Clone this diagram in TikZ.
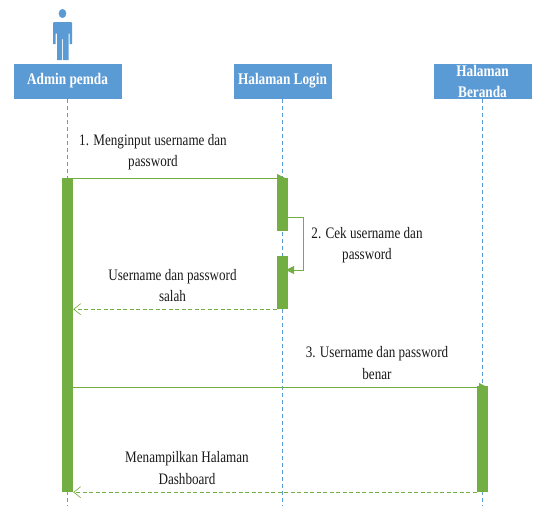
\documentclass[tikz,border=0pt]{standalone}
\usepackage{fontspec}
\setmainfont[FakeStretch=0.82]{Liberation Serif}
\definecolor{blu}{HTML}{5B9BD5}
\definecolor{grn}{HTML}{72AE42}
\usetikzlibrary{arrows.meta}
\tikzset{
 head/.style={fill=blu,draw=white,line width=.4pt,minimum width=#1,minimum height=36.5pt,inner sep=0pt,align=center,text=white,font=\fontsize{16.2}{21}\selectfont\bfseries},
 life/.style={draw=blu,line width=.8pt,dash pattern=on 4pt off 3pt},
 act/.style={fill=grn,draw=none,minimum width=11pt,inner sep=0pt},
 msg/.style={draw=grn,line width=.85pt,-{Triangle[length=8pt,width=8pt]}},
 ret/.style={draw=grn,line width=1pt,dash pattern=on 4pt off 2.5pt,-{Straight Barb[length=7pt,width=11pt,line width=.6pt]}},
 lbl/.style={align=center,inner sep=0pt,text=black!90,font=\fontsize{16}{21.5}\selectfont}
}
\begin{document}
\begin{tikzpicture}[x=1pt,y=-1pt]
\useasboundingbox (0,0) rectangle (536,506);
\node[head=109pt] (adm) at (67.5,81) {Admin pemda};
\node[head=99pt] (log) at (282.5,81) {Halaman Login};
\node[head=99pt] (ber) at (482.5,81) {Halaman\\Beranda};
\coordinate (admE) at (67.5,506);
\coordinate (logE) at (282.5,506);
\coordinate (berE) at (482.5,506);
\draw[life] (adm.south) -- (admE);
\draw[life] (log.south) -- (logE);
\draw[life] (ber.south) -- (berE);
% actor
\fill[blu] (62.5,13.5) ellipse (3.8pt and 4.6pt);
\fill[blu] (54,22) -- (71,22) -- (72,23) -- (72,44) -- (69.5,44) -- (69.5,33.5) -- (68.5,33.5) -- (68.5,60) -- (63,60) -- (63,39) -- (62,39) -- (62,60) -- (57,60) -- (57,33.5) -- (55.5,33.5) -- (55.5,44) -- (53,44) -- (53,23) -- cycle;
% activations
\node[act,minimum height=314pt] (a1) at (67.5,335) {};
\node[act,minimum height=53pt] (l1) at (282.5,204.5) {};
\node[act,minimum height=53pt] (l2) at (282.5,282.5) {};
\node[act,minimum height=106pt] (b1) at (482.5,439) {};
% messages
\coordinate (m1) at (285,178);
\coordinate (m3) at (487,387);
\draw[msg] (a1.east |- m1) -- (m1);
\coordinate (c1) at (303,217);
\coordinate (c2) at (303,270);
\coordinate (s1) at (288,217);
\coordinate (s2) at (286,270);
\draw[msg] (s1) -- (c1) -- (c2) -- (s2);
\draw[ret] (l2.south west) -- (a1.east |- l2.south);
\draw[msg] (a1.east |- m3) -- (m3);
\draw[ret] (b1.south west) -- (a1.south east);
% labels
\node[lbl] (t1) at (153,152) {1. Menginput username dan\\password};
\node[lbl] (t2) at (367,245) {2. Cek username dan\\password};
\node[lbl] (t3) at (172.5,285.5) {Username dan password\\salah};
\node[lbl] (t4) at (377,363) {3. Username dan password\\benar};
\node[lbl] (t5) at (187,468) {Menampilkan Halaman\\Dashboard};
\end{tikzpicture}
\end{document}
